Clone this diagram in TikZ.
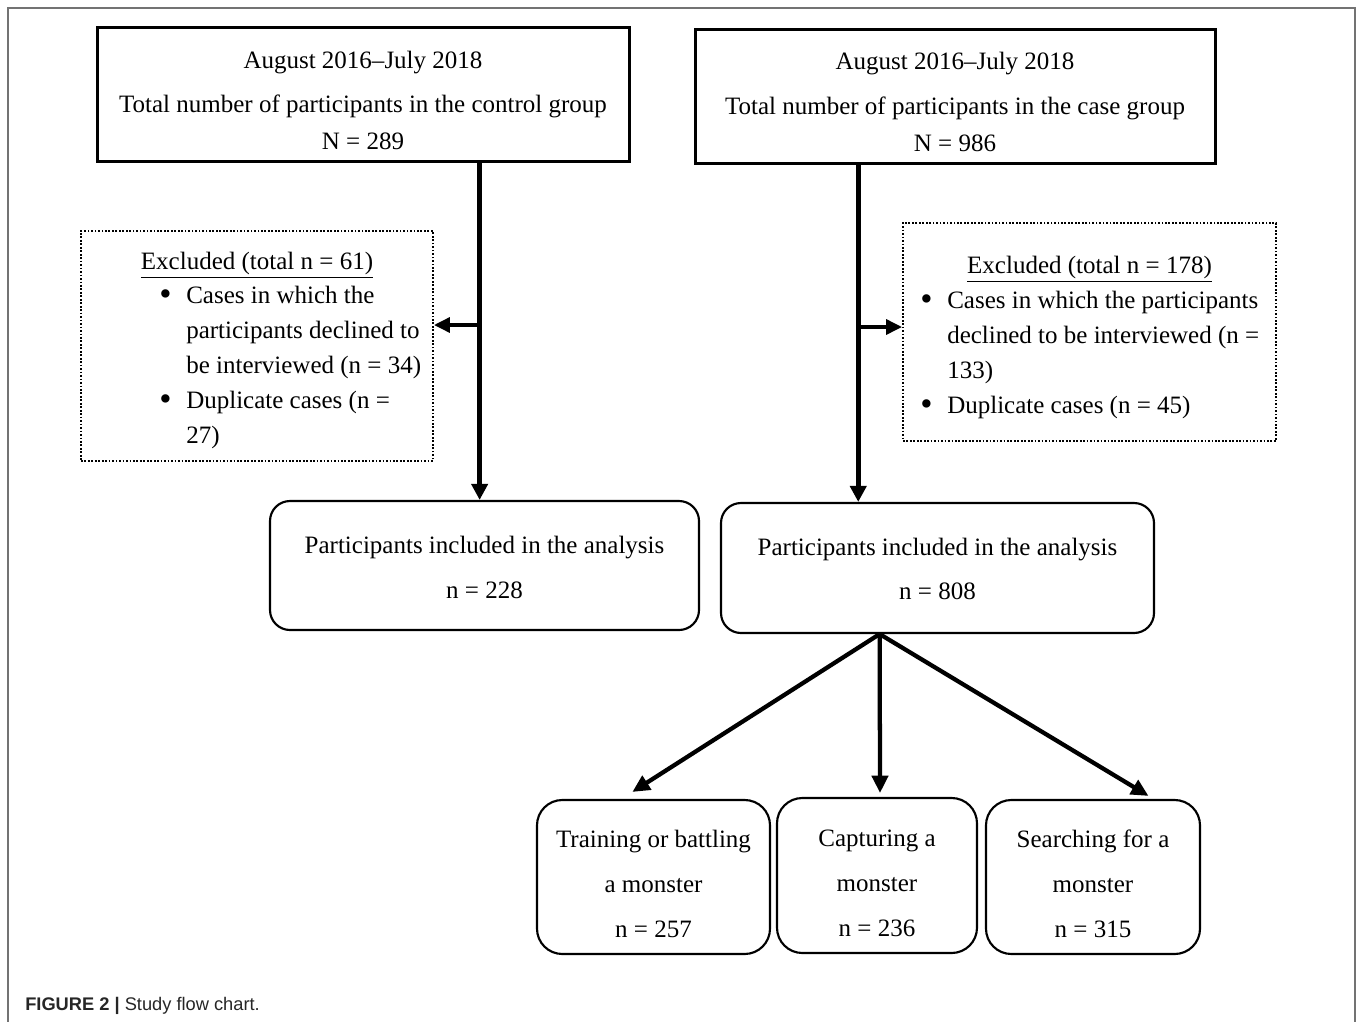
\documentclass[tikz,border=0pt]{standalone}
\usepackage{fontspec}
\setmainfont{Liberation Serif}
\setsansfont{Liberation Sans}
\usetikzlibrary{arrows.meta,calc}
\newcommand{\bigbul}{\raisebox{-1.6pt}{\scalebox{1.4}{\textbullet}}}
\begin{document}
\begin{tikzpicture}[x=0.75pt,y=-0.75pt,
  txt/.style={font=\fontsize{18.75}{26.25}\selectfont, align=center, inner sep=0pt},
  lst/.style={font=\fontsize{18.75}{26.25}\selectfont, align=left, inner sep=0pt, anchor=west},
  topbox/.style={draw, line width=2.25pt, inner sep=0pt},
  dotbox/.style={draw, line width=1.3pt, dash pattern=on 1.3pt off 1.3pt, inner sep=0pt},
  rbox/.style={draw, line width=1.6pt, rounded corners=15pt, inner sep=0pt},
  bbox/.style={draw, line width=1.6pt, rounded corners=19pt, inner sep=0pt},
  mainln/.style={line width=3.6pt, -{Triangle[length=12pt,width=12pt]}},
  arr/.style={line width=3pt, -{Triangle[length=12pt,width=11pt]}},
  darr/.style={line width=3.2pt, -{Triangle[length=13pt,width=12pt]}},
  frame/.style={draw=black!55, line width=1.3pt},
]
\useasboundingbox (0,0) rectangle (1360,1021);
% outer frame
\draw[frame] (8,1030) -- (8,8) -- (1355,8) -- (1355,1030);

% top boxes
\node[topbox, minimum width=399pt, minimum height=100.5pt] (A) at (363,94) {};
\node[txt] (Atxt) at (363,100) {August 2016–July 2018\\[6.75pt]Total number of participants in the control group\\[1.5pt]N = 289};
\node[topbox, minimum width=390pt, minimum height=100.5pt] (B) at (955,96) {};
\node[txt] (Btxt) at (955,102) {August 2016–July 2018\\[7.5pt]Total number of participants in the case group\\[1.5pt]N = 986};

% excluded boxes
\node[dotbox, minimum width=264pt, minimum height=172.5pt] (L) at (257,346) {};
\node[txt] (Lhead) at (257,265) {\underline{Excluded (total n = 61)}};
\node[lst] (Llist) at (159,367.5) {\makebox[20.25pt][l]{\bigbul}Cases in which the\\
\hspace*{20.25pt}participants declined to\\
\hspace*{20.25pt}be interviewed (n = 34)\\
\makebox[20.25pt][l]{\bigbul}Duplicate cases (n =\\
\hspace*{20.25pt}27)};
\node[dotbox, minimum width=279.75pt, minimum height=163.5pt] (R) at (1089.5,332) {};
\node[txt] (Rhead) at (1089.5,269) {\underline{Excluded (total n = 178)}};
\node[lst] (Rlist) at (920,355) {\makebox[20.25pt][l]{\bigbul}Cases in which the participants\\
\hspace*{20.25pt}declined to be interviewed (n =\\
\hspace*{20.25pt}133)\\
\makebox[20.25pt][l]{\bigbul}Duplicate cases (n = 45)};

% included boxes
\node[rbox, minimum width=321.75pt, minimum height=96.75pt] (C) at (484.5,565.5) {};
\node[txt] (Ctxt) at (484.5,567) {Participants included in the analysis\\[7.5pt]n = 228};
\node[rbox, minimum width=324.75pt, minimum height=97.5pt] (D) at (937.5,568) {};
\node[txt] (Dtxt) at (937.5,569) {Participants included in the analysis\\[6.75pt]n = 808};

% subgroup boxes
\node[bbox, minimum width=174.75pt, minimum height=115.5pt] (E) at (653.5,877) {};
\node[txt] (Etxt) at (653.5,884) {Training or battling\\[7.5pt]a monster\\[7.5pt]n = 257};
\node[bbox, minimum width=150pt, minimum height=116.25pt] (F) at (877,875.5) {};
\node[txt] (Ftxt) at (877,883) {Capturing a\\[7.5pt]monster\\[7.5pt]n = 236};
\node[bbox, minimum width=160.5pt, minimum height=115.5pt] (G) at (1093,877) {};
\node[txt] (Gtxt) at (1093,884) {Searching for a\\[7.5pt]monster\\[7.5pt]n = 315};

% connector points
\coordinate (Aout) at ($(A.south west)!0.718!(A.south east)$);
\coordinate (Bout) at ($(B.south west)!0.315!(B.south east)$);
\coordinate (Lin) at (L.east |- 0,325);
\coordinate (Rin) at (R.west |- 0,327);
\coordinate (Dout) at ($(D.south west)!0.367!(D.south east)$);
\coordinate (Ein) at ($(E.north west)!0.41!(E.north east)+(0,-7)$);
\coordinate (Fin) at ($(F.north west |- 0,793)!0.515!(F.north east |- 0,793)$);
\coordinate (Gin) at ($(G.north west)!0.757!(G.north east)+(0,-3)$);

% connectors
\draw[mainln] (Aout) -- (Aout |- C.north);
\draw[arr] (Aout |- Lin) -- (Lin);
\draw[mainln] (Bout) -- (Bout |- D.north);
\draw[arr] (Bout |- Rin) -- (Rin);
\draw[darr] (Dout) -- (Ein);
\draw[darr] (Dout) -- (Fin);
\draw[darr] (Dout) -- (Gin);

% caption
\node[anchor=west, inner sep=0pt, font=\sffamily\fontsize{13.7}{16}\selectfont, text=black!85] (cap) at (25,1005.5) {\textbf{FIGURE 2 |} Study flow chart.};
\end{tikzpicture}
\end{document}
